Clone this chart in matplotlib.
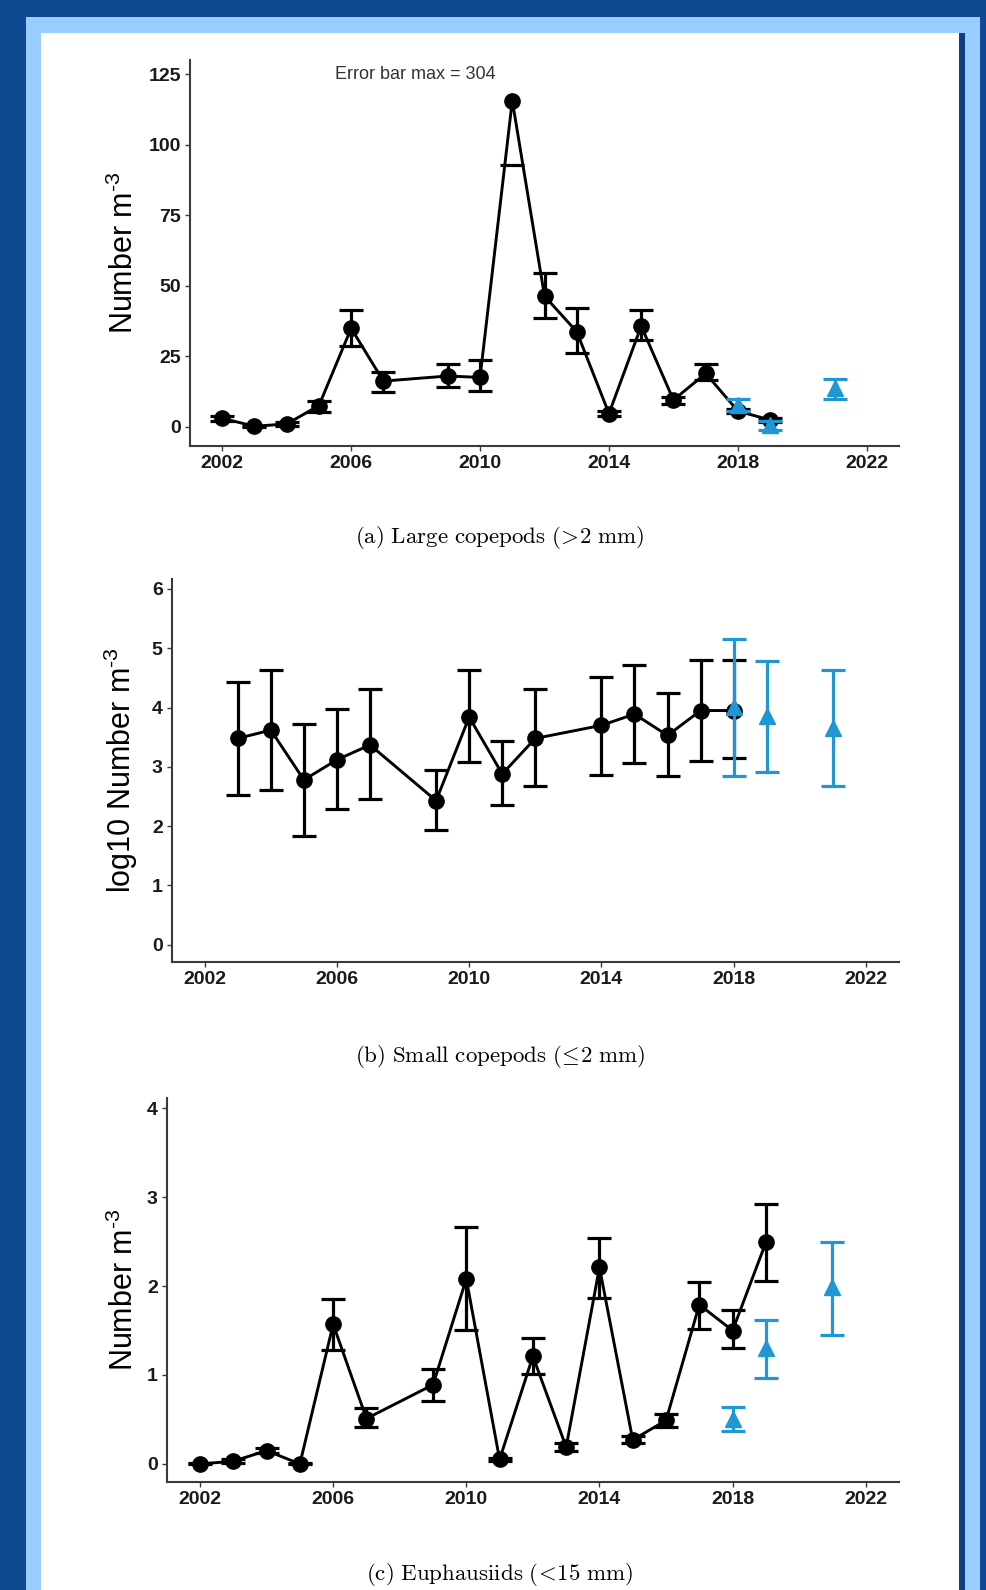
import numpy as np
import matplotlib
matplotlib.use("Agg")
import matplotlib.pyplot as plt
from matplotlib.patches import Rectangle

plt.rcParams['font.family'] = ['Liberation Sans', 'DejaVu Sans']
plt.rcParams['mathtext.fontset'] = 'custom'
plt.rcParams['mathtext.rm'] = 'Liberation Sans'

###
# (a) Large copepods (>2 mm)
yr_a = [2002, 2003, 2004, 2005, 2006, 2007, 2009, 2010, 2011, 2012, 2013, 2014, 2015, 2016, 2017, 2018, 2019]
val_a = [3.0, 0.2, 1.0, 7.5, 34.9, 16.2, 18.0, 17.5, 115.6, 46.3, 33.7, 4.7, 35.7, 9.5, 18.9, 5.6, 2.4]
lo_a = [2.2, 0.0, 0.3, 5.3, 28.6, 12.4, 14.2, 12.8, 92.6, 38.4, 26.2, 3.8, 30.7, 8.0, 16.5, 4.8, 1.6]
hi_a = [3.8, 0.4, 1.7, 9.2, 41.4, 19.5, 22.1, 23.5, 304.0, 54.6, 42.0, 5.7, 41.4, 10.6, 22.1, 6.4, 3.2]
yr_a_new = [2018, 2019, 2021]
val_a_new = [7.9, 0.6, 13.6]
lo_a_new = [5.7, -1.2, 9.7]
hi_a_new = [10.0, 2.2, 17.1]

# (b) Small copepods (<=2 mm), log10
yr_b = [2003, 2004, 2005, 2006, 2007, 2009, 2010, 2011, 2012, 2014, 2015, 2016, 2017, 2018]
val_b = [3.48, 3.62, 2.78, 3.12, 3.37, 2.43, 3.84, 2.88, 3.48, 3.70, 3.89, 3.53, 3.95, 3.95]
lo_b = [2.52, 2.61, 1.84, 2.29, 2.45, 1.93, 3.09, 2.35, 2.67, 2.87, 3.07, 2.84, 3.10, 3.15]
hi_b = [4.43, 4.63, 3.72, 3.98, 4.32, 2.95, 4.63, 3.44, 4.32, 4.52, 4.72, 4.25, 4.81, 4.81]
yr_b_new = [2018, 2019, 2021]
val_b_new = [4.01, 3.85, 3.66]
lo_b_new = [2.84, 2.91, 2.67]
hi_b_new = [5.15, 4.79, 4.64]

# (c) Euphausiids (<15 mm)
yr_c = [2002, 2003, 2004, 2005, 2006, 2007, 2009, 2010, 2011, 2012, 2013, 2014, 2015, 2016, 2017, 2018, 2019]
val_c = [0.0, 0.03, 0.15, 0.0, 1.57, 0.51, 0.89, 2.08, 0.05, 1.21, 0.19, 2.21, 0.27, 0.49, 1.79, 1.50, 2.49]
lo_c = [0.0, 0.01, 0.12, 0.0, 1.28, 0.41, 0.71, 1.51, 0.03, 1.01, 0.15, 1.87, 0.24, 0.42, 1.52, 1.30, 2.06]
hi_c = [0.01, 0.05, 0.18, 0.01, 1.85, 0.63, 1.07, 2.66, 0.07, 1.42, 0.23, 2.54, 0.31, 0.56, 2.05, 1.73, 2.92]
yr_c_new = [2018, 2019, 2021]
val_c_new = [0.51, 1.30, 1.99]
lo_c_new = [0.37, 0.97, 1.45]
hi_c_new = [0.64, 1.62, 2.49]

BLUE = '#1f97d4'
AXC = '#3a3a3a'

###
def panel(ax, yr, val, lo, hi, yr2, val2, lo2, hi2, ylim, yticks, ylabel):
    ax.set_xlim(2001, 2023)
    ax.set_ylim(*ylim)
    val = np.array(val); lo = np.array(lo); hi = np.array(hi, dtype=float)
    hi = np.where(hi > ylim[1], np.nan, hi)  # off-scale bars dropped
    ax.plot(yr, val, color='black', lw=2.1, zorder=2)
    ax.errorbar(yr, val, yerr=[val - lo, hi - val], fmt='o', color='black', ms=11,
                elinewidth=2.3, capsize=8.5, capthick=2.3, zorder=3)
    val2 = np.array(val2)
    ax.errorbar(yr2, val2, yerr=[val2 - np.array(lo2), np.array(hi2) - val2], fmt='^',
                color=BLUE, ms=12, elinewidth=2.3, capsize=8.5, capthick=2.3, zorder=4)
    ax.set_xticks(range(2002, 2023, 4))
    ax.set_yticks(yticks)
    for s in ['top', 'right']:
        ax.spines[s].set_visible(False)
    for s in ['left', 'bottom']:
        ax.spines[s].set_color(AXC)
        ax.spines[s].set_linewidth(1.5)
    ax.tick_params(length=3.5, width=1, color=AXC, labelsize=14, labelcolor='#1a1a1a', pad=3)
    for t in ax.get_xticklabels() + ax.get_yticklabels():
        t.set_fontweight('bold')
    ax.set_ylabel(ylabel, fontsize=22)
    ax.yaxis.set_label_coords(0.142, ax.get_position().y0 + ax.get_position().height / 2,
                              transform=ax.figure.transFigure)
    ax.set_facecolor('white')

###
fig = plt.figure(figsize=(9.86, 15.9), dpi=100)
fig.patch.set_facecolor('#0d4a8f')
fig.add_artist(Rectangle((0.0264, 0), 0.9675, 0.9893, transform=fig.transFigure,
                         facecolor='#99ccff', edgecolor='none', zorder=0))
fig.add_artist(Rectangle((0.0416, 0), 0.9310, 0.9792, transform=fig.transFigure,
                         facecolor='white', edgecolor='none', zorder=0))
fig.add_artist(Rectangle((0.9726, 0), 0.0061, 0.9792, transform=fig.transFigure,
                         facecolor='#0b3f85', edgecolor='none', zorder=0))

ax_a = fig.add_axes([0.1927, 0.7195, 0.7191, 0.2428])
ax_b = fig.add_axes([0.1741, 0.3950, 0.7376, 0.2409])
ax_c = fig.add_axes([0.1691, 0.0681, 0.7427, 0.2411])

panel(ax_a, yr_a, val_a, lo_a, hi_a, yr_a_new, val_a_new, lo_a_new, hi_a_new,
      (-6.8, 130), [0, 25, 50, 75, 100, 125], r'Number m$^{\text{-3}}$')
ax_a.text(2008, 125, 'Error bar max = %d' % max(hi_a), fontsize=13, color='#333333',
          ha='center', va='center')

panel(ax_b, yr_b, val_b, lo_b, hi_b, yr_b_new, val_b_new, lo_b_new, hi_b_new,
      (-0.29, 6.17), [0, 1, 2, 3, 4, 5, 6], r'log10 Number m$^{\text{-3}}$')

panel(ax_c, yr_c, val_c, lo_c, hi_c, yr_c_new, val_c_new, lo_c_new, hi_c_new,
      (-0.2, 4.11), [0, 1, 2, 3, 4], r'Number m$^{\text{-3}}$')

cap = dict(fontsize=16.5, ha='center', va='center', math_fontfamily='cm')
fig.text(0.507, 1 - 537.6 / 1590, r'$\mathrm{(a)\ Large\ copepods\ (}\!>\!\mathrm{2\ mm)}$', **cap)
fig.text(0.507, 1 - 1056 / 1590, r'$\mathrm{(b)\ Small\ copepods\ (}\!\leq\!\mathrm{2\ mm)}$', **cap)
fig.text(0.507, 1 - 1574 / 1590, r'$\mathrm{(c)\ Euphausiids\ (}\!<\!\mathrm{15\ mm)}$', **cap)

fig.savefig('out.png', dpi=100, facecolor=fig.get_facecolor())
